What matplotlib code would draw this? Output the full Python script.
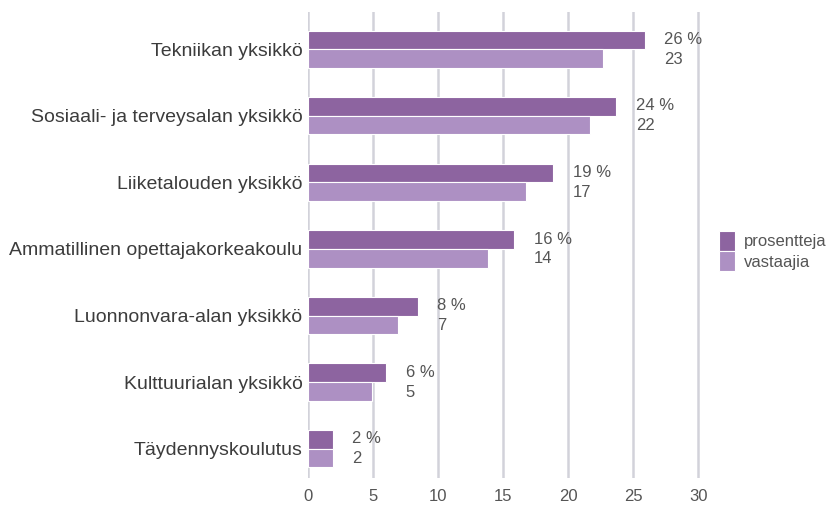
import numpy as np
import matplotlib.pyplot as plt

# Data
categories = ['Tekniikan yksikkö', 'Sosiaali- ja terveysalan yksikkö', 'Liiketalouden yksikkö',
              'Ammatillinen opettajakorkeakoulu', 'Luonnonvara-alan yksikkö',
              'Kulttuurialan yksikkö', 'Täydennyskoulutus']
prosentteja = [25.9, 23.7, 18.85, 15.85, 8.45, 6.0, 1.9]
vastaajia = [22.7, 21.7, 16.8, 13.85, 6.9, 4.9, 1.9]
pros_labels = ['26 %', '24 %', '19 %', '16 %', '8 %', '6 %', '2 %']
vast_labels = ['23', '22', '17', '14', '7', '5', '2']
xticks = [0, 5, 10, 15, 20, 25, 30]

plt.rcParams['font.family'] = ['Liberation Sans', 'DejaVu Sans']

dark = '#8d64a0'
light = '#ad90c3'
text_col = '#3c3c3c'

fig = plt.figure(figsize=(8.4, 5.13), dpi=100)
# axes spans 0..30.3 so the last grid line is not clipped
ax = fig.add_axes([308 / 840, 1 - 478 / 513, 394 / 840, 466 / 513])

y = np.arange(len(categories))
h = 0.28
ax.barh(y - h / 2, prosentteja, height=h, color=dark, edgecolor='white', linewidth=0.8,
        label='prosentteja', zorder=3)
ax.barh(y + h / 2, vastaajia, height=h, color=light, edgecolor='white', linewidth=0.8,
        label='vastaajia', zorder=3)

for i in range(len(categories)):
    x = prosentteja[i] + 1.5
    ax.text(x, y[i] - 0.15, pros_labels[i], va='center', ha='left', fontsize=12, color='#555555')
    ax.text(x, y[i] + 0.15, vast_labels[i], va='center', ha='left', fontsize=12, color='#555555')

ax.set_xlim(0, 30.3)
ax.set_ylim(6.44, -0.56)
ax.set_xticks(xticks)
ax.set_yticks(y)
ax.set_yticklabels(categories, fontsize=14, color=text_col)
ax.tick_params(axis='x', labelsize=12, labelcolor='#555555', length=0, pad=8)
ax.tick_params(axis='y', length=0, pad=4)
ax.grid(axis='x', color='#d2d2da', linewidth=1.8, zorder=0)
for s in ax.spines.values():
    s.set_visible(False)

ax.legend(loc='center left', bbox_to_anchor=(712 / 840, 1 - 251 / 513), bbox_transform=fig.transFigure,
          frameon=False, fontsize=12, handlelength=1.0, handleheight=1.4, handletextpad=0.5,
          labelspacing=0.05, borderaxespad=0, labelcolor='#555555')

plt.savefig('out.png', dpi=100)
